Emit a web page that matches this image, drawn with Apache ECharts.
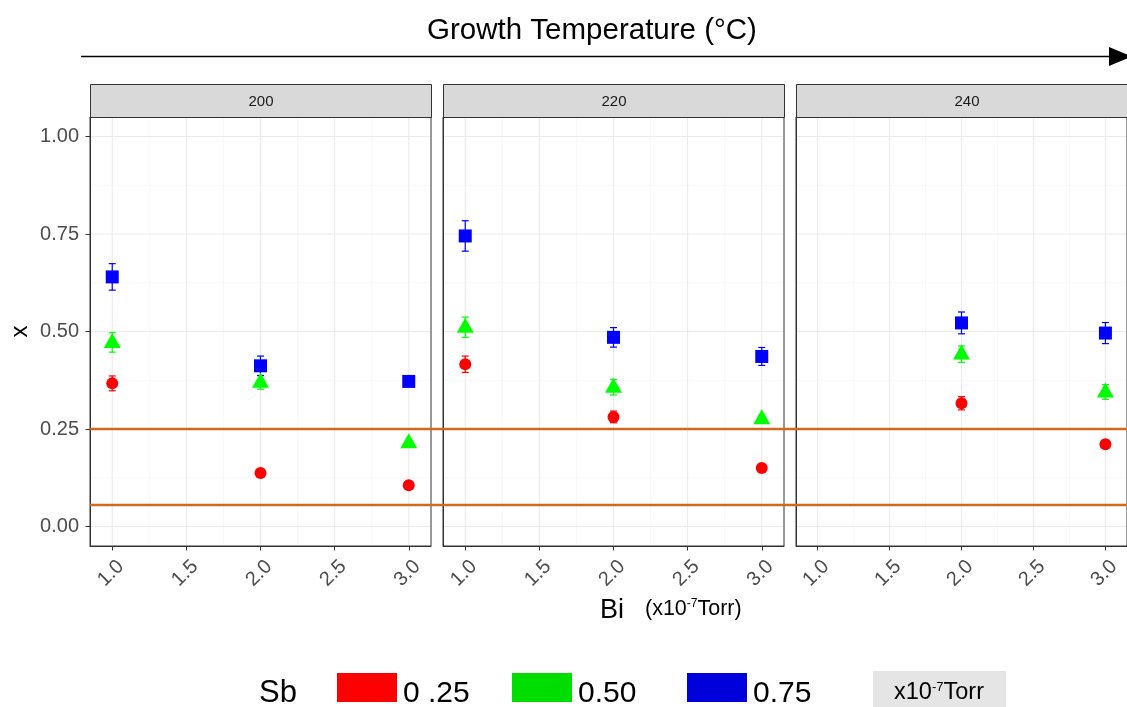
<!DOCTYPE html>
<html>
<head>
<meta charset="utf-8">
<script src="https://cdn.jsdelivr.net/npm/echarts@6/dist/echarts.min.js"></script>
<style>
  html, body { margin: 0; padding: 0; background: #fff; }
  #chart { width: 1127px; height: 707px; }
</style>
</head>
<body>
<div id="chart"></div>
<script>
// facets (growth temperature) and x positions (Bi flux)
const temps = ['200', '220', '240'];
const biValues = [1, 2, 3];
const sbLevels = ['0 .25', '0.50', '0.75'];

// measured x (mean) per facet / Sb level, by Bi = 1, 2, 3
const x200_sb25 = [0.367, 0.137, 0.106];
const x200_sb50 = [0.472, 0.370, 0.215];
const x200_sb75 = [0.640, 0.412, 0.372];
const x220_sb25 = [0.416, 0.281, 0.150];
const x220_sb50 = [0.511, 0.357, 0.276];
const x220_sb75 = [0.745, 0.485, 0.436];
const x240_sb25 = [null, 0.316, 0.211];
const x240_sb50 = [null, 0.442, 0.345];
const x240_sb75 = [null, 0.522, 0.496];

// error bar half widths
const e200_sb25 = [0.019, 0.006, 0.006];
const e200_sb50 = [0.025, 0.018, 0.006];
const e200_sb75 = [0.034, 0.025, 0.008];
const e220_sb25 = [0.021, 0.015, 0.006];
const e220_sb50 = [0.026, 0.020, 0.010];
const e220_sb75 = [0.039, 0.025, 0.023];
const e240_sb25 = [null, 0.017, 0.008];
const e240_sb50 = [null, 0.021, 0.019];
const e240_sb75 = [null, 0.028, 0.027];

// axis breaks
const xTicks = [1, 1.5, 2, 2.5, 3];
const xMinor = [1.25, 1.75, 2.25, 2.75];
const yTicks = [0, 0.25, 0.5, 0.75, 1];
const yMinor = [0.125, 0.375, 0.625, 0.875];

// horizontal reference lines
const refLines = [0.25, 0.055];

const means = [
    [x200_sb25, x200_sb50, x200_sb75],
    [x220_sb25, x220_sb50, x220_sb75],
    [x240_sb25, x240_sb50, x240_sb75]
];
const errs = [
    [e200_sb25, e200_sb50, e200_sb75],
    [e220_sb25, e220_sb50, e220_sb75],
    [e240_sb25, e240_sb50, e240_sb75]
];

const pointColors = ['#ff0000', '#00ff00', '#0000ff'];
const keyColors = ['#ff0000', '#00dd00', '#0000dd'];
const symbols = ['circle', 'triangle', 'rect'];
const symbolSizes = [12, [17, 15], 13];
const symbolOffsets = [[0, 0], [0, -2], [0, 0]];

const FONT = 'Liberation Sans, Arial, sans-serif';
const panelLeft = [90, 443, 796];
const panelTop = 117, panelW = 341, panelH = 429;
const stripH = 33;

let chart = echarts.init(document.getElementById('chart'));

let grids = [], xAxes = [], yAxes = [], series = [], graphics = [];

temps.forEach(function (t, i) {
    grids.push({
        left: panelLeft[i], top: panelTop, width: panelW, height: panelH,
        show: true, borderColor: '#333333', borderWidth: 1, backgroundColor: '#ffffff'
    });
    xAxes.push({
        type: 'value', gridIndex: i, min: 0.85, max: 3.15,
        splitLine: {show: false},
        axisLine: {show: true, onZero: false, lineStyle: {color: '#333333', width: 1}},
        axisTick: {show: true, length: 4.5, lineStyle: {color: '#333333', width: 1}, customValues: xTicks},
        axisLabel: {
            customValues: xTicks, rotate: 45, margin: 26, fontSize: 20,
            color: '#4d4d4d', fontFamily: FONT, padding: [0, -12, 0, 0],
            formatter: function (v) { return v.toFixed(1); }
        }
    });
    yAxes.push({
        type: 'value', gridIndex: i, min: -0.05, max: 1.05,
        splitLine: {show: false},
        axisLine: {show: true, onZero: false, lineStyle: {color: '#333333', width: 1}},
        axisTick: {show: i === 0, length: 4.5, lineStyle: {color: '#333333', width: 1}, customValues: yTicks},
        axisLabel: {
            show: i === 0, customValues: yTicks, margin: 11, fontSize: 20,
            color: '#4d4d4d', fontFamily: FONT,
            formatter: function (v) { return v.toFixed(2); }
        },
        name: i === 0 ? 'x' : '',
        nameLocation: 'middle', nameGap: 58, nameRotate: 90,
        nameTextStyle: {fontSize: 24, color: '#000', fontFamily: FONT}
    });

    // panel grid lines
    let gl = [];
    xTicks.forEach(v => gl.push([v, 0, 1]));
    xMinor.forEach(v => gl.push([v, 0, 0]));
    yTicks.forEach(v => gl.push([v, 1, 1]));
    yMinor.forEach(v => gl.push([v, 1, 0]));
    series.push({
        type: 'custom', xAxisIndex: i, yAxisIndex: i, z: 1, silent: true,
        data: gl,
        renderItem: function (params, api) {
            const cs = params.coordSys;
            const v = api.value(0), dir = api.value(1), major = api.value(2);
            let shape;
            if (dir === 0) {
                const p = api.coord([v, 0]);
                shape = {x1: p[0], y1: cs.y + 1, x2: p[0], y2: cs.y + cs.height - 1};
            } else {
                const p = api.coord([1, v]);
                shape = {x1: cs.x + 1, y1: p[1], x2: cs.x + cs.width - 1, y2: p[1]};
            }
            return {
                type: 'line', shape: shape,
                style: {stroke: major ? '#ebebeb' : '#f2f2f2', lineWidth: major ? 1.1 : 0.6}
            };
        }
    });

    // error bars + points
    sbLevels.forEach(function (sb, k) {
        const m = means[i][k], e = errs[i][k];
        let pts = [], bars = [];
        biValues.forEach(function (b, j) {
            if (m[j] === null) return;
            pts.push([b, m[j]]);
            bars.push([b, m[j] - e[j], m[j] + e[j]]);
        });
        series.push({
            type: 'custom', xAxisIndex: i, yAxisIndex: i, z: 3, silent: true,
            data: bars,
            renderItem: function (params, api) {
                const lo = api.coord([api.value(0), api.value(1)]);
                const hi = api.coord([api.value(0), api.value(2)]);
                const c = pointColors[k], w = 3.5;
                const st = {stroke: c, lineWidth: 1.2};
                return {
                    type: 'group', children: [
                        {type: 'line', shape: {x1: lo[0], y1: lo[1], x2: hi[0], y2: hi[1]}, style: st},
                        {type: 'line', shape: {x1: lo[0] - w, y1: lo[1], x2: lo[0] + w, y2: lo[1]}, style: st},
                        {type: 'line', shape: {x1: hi[0] - w, y1: hi[1], x2: hi[0] + w, y2: hi[1]}, style: st}
                    ]
                };
            }
        });
        series.push({
            type: 'scatter', name: sb, xAxisIndex: i, yAxisIndex: i, z: 4,
            data: pts,
            symbol: symbols[k], symbolSize: symbolSizes[k], symbolOffset: symbolOffsets[k],
            itemStyle: {color: pointColors[k], opacity: 1},
            silent: true
        });
    });

    // strip header
    graphics.push({
        type: 'group', left: panelLeft[i], top: panelTop - stripH,
        children: [
            {type: 'rect', shape: {x: 0, y: 0, width: panelW, height: stripH},
                style: {fill: '#d9d9d9', stroke: '#333333', lineWidth: 1}},
            {type: 'text', x: panelW / 2, y: stripH / 2 + 1,
                style: {text: t, fontSize: 15, fill: '#1a1a1a', fontFamily: FONT,
                    textAlign: 'center', textVerticalAlign: 'middle'}}
        ]
    });
});

// orange reference lines across all facets
series.push({
    type: 'custom', xAxisIndex: 0, yAxisIndex: 0, z: 5, clip: false, silent: true,
    data: refLines.map(v => [1, v]),
    renderItem: function (params, api) {
        const p = api.coord([1, api.value(1)]);
        return {
            type: 'line',
            shape: {x1: params.coordSys.x, y1: p[1], x2: api.getWidth(), y2: p[1]},
            style: {stroke: '#d2691e', lineWidth: 2.6}
        };
    }
});

// top title + arrow
graphics.push(
    {type: 'text', x: 592, y: 31, style: {text: 'Growth Temperature (°C)', fontSize: 29.5, fill: '#000',
        fontFamily: FONT, textAlign: 'center', textVerticalAlign: 'middle'}},
    {type: 'line', shape: {x1: 81, y1: 56.5, x2: 1112, y2: 56.5}, style: {stroke: '#000', lineWidth: 1.5}},
    {type: 'polygon', shape: {points: [[1109, 47], [1109, 66], [1132, 56.5]]}, style: {fill: '#000'}}
);

// x axis title
graphics.push(
    {type: 'text', x: 600, y: 611, style: {text: 'Bi', fontSize: 27, fill: '#000',
        fontFamily: FONT, textVerticalAlign: 'middle'}},
    {type: 'text', x: 645, y: 609, style: {
        text: '{b|(x10}{s|-7}{b|Torr)}',
        textVerticalAlign: 'middle', fontFamily: FONT,
        rich: {
            b: {fontSize: 21.5, fill: '#000', fontFamily: FONT},
            s: {fontSize: 12, fill: '#000', fontFamily: FONT, verticalAlign: 'top', padding: [0, 0, 9, 0]}
        }
    }}
);

// legend key
graphics.push({type: 'text', x: 259, y: 693, style: {text: 'Sb', fontSize: 31, fill: '#000',
    fontFamily: FONT, textVerticalAlign: 'middle'}});
const keyX = [337, 512, 687];
sbLevels.forEach(function (sb, k) {
    graphics.push(
        {type: 'rect', shape: {x: keyX[k], y: 673, width: 60, height: 29}, style: {fill: keyColors[k]}},
        {type: 'text', x: keyX[k] + 66, y: 694, style: {text: sb, fontSize: 30, fill: '#000',
            fontFamily: FONT, textVerticalAlign: 'middle'}}
    );
});
graphics.push(
    {type: 'rect', shape: {x: 873, y: 671, width: 133, height: 40}, style: {fill: '#e5e5e5'}},
    {type: 'text', x: 939, y: 693, style: {
        text: '{b|x10}{s|-7}{b|Torr}', textAlign: 'center', textVerticalAlign: 'middle', fontFamily: FONT,
        rich: {
            b: {fontSize: 23.5, fill: '#000', fontFamily: FONT},
            s: {fontSize: 13, fill: '#000', fontFamily: FONT, verticalAlign: 'top', padding: [0, 0, 10, 0]}
        }
    }}
);

option = {
    backgroundColor: '#ffffff',
    animation: false,
    grid: grids,
    xAxis: xAxes,
    yAxis: yAxes,
    series: series,
    graphic: graphics
};

chart.setOption(option);
</script>
</body>
</html>
